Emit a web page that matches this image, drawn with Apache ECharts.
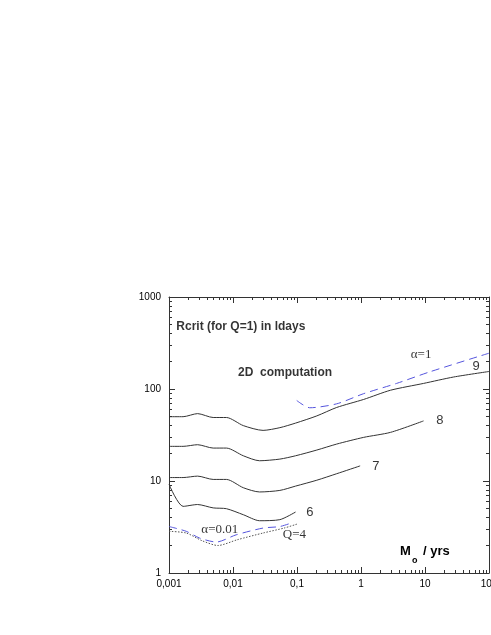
<!DOCTYPE html>
<html>
<head>
<meta charset="utf-8">
<script src="https://cdn.jsdelivr.net/npm/echarts@6/dist/echarts.min.js"></script>
<style>html,body{margin:0;padding:0;background:#fff;}#pic{width:491px;height:635px;}</style>
</head>
<body>
<div id="pic"></div>
<script>
// x 轴为 M / yrs，y 轴为 Rcrit (ldays)
var curve9 = [[0.001,50],[0.00166,50],[0.0028,54],[0.0049,49],[0.0079,49],[0.0145,40],[0.0295,35.5],[0.054,38],[0.095,42.6],[0.204,51],[0.417,63],[1.1,77],[2.9,97],[9.5,115],[28,135],[100,155]];
var curve8 = [[0.001,23.8],[0.00166,23.8],[0.0028,24.8],[0.0049,22.8],[0.0079,22.8],[0.0145,18.8],[0.026,16.6],[0.054,17.3],[0.095,18.8],[0.204,21.7],[0.417,25.2],[1.1,29.8],[2.9,33.8],[9.5,45]];
var curve7 = [[0.001,10.9],[0.00166,10.9],[0.0028,11.3],[0.0049,10.4],[0.0079,10.4],[0.0145,8.45],[0.026,7.6],[0.054,7.9],[0.095,8.8],[0.204,10.2],[0.417,12],[0.97,14.6]];
var curve6 = [[0.001,9.2],[0.00166,5.3],[0.0028,5.55],[0.0049,5.1],[0.0079,5.0],[0.0145,4.3],[0.026,3.7],[0.054,3.8],[0.095,4.6]];
var alpha1 = [[0.099,75],[0.158,62.5],[0.417,69],[1.1,89],[3.6,115],[12,154],[100,245]];
var alpha001 = [[0.001,3.2],[0.00186,2.84],[0.003,2.4],[0.0055,2.17],[0.0112,2.6],[0.0295,3.08],[0.054,3.2],[0.087,3.55]];
var q4 = [[0.001,2.84],[0.00186,2.72],[0.0033,2.24],[0.0058,1.99],[0.0117,2.3],[0.0295,2.72],[0.063,3.08],[0.1,3.4]];
var xTickLabels = {0.001:'0,001', 0.01:'0,01', 0.1:'0,1', 1:'1', 10:'10', 100:'100'};
var yTickLabels = {1:'1', 10:'10', 100:'100', 1000:'1000'};
var notes = [
    {value:[0.0013,480], text:'Rcrit (for Q=1) in ldays', bold:true},
    {value:[0.012,150], text:'2D  computation', bold:true},
    {value:[6,235], text:'α=1', bold:false},
    {value:[55,175], text:'9', bold:false},
    {value:[15,45], text:'8', bold:false},
    {value:[1.5,14.5], text:'7', bold:false},
    {value:[0.14,4.6], text:'6', bold:false},
    {value:[0.0032,2.95], text:'α=0.01', bold:false},
    {value:[0.06,2.6], text:'Q=4', bold:false}
];

var black = '#333';
function lineSeries(name, data, color, type) {
    return {
        type: 'line', name: name, data: data, symbol: 'none', silent: true, smooth: 0.25,
        lineStyle: {color: color, width: 1, type: type || 'solid'}
    };
}
function edgeAxis(extra) {
    var a = {
        type: 'log',
        axisLine: {lineStyle: {color: black}},
        axisTick: {inside: true, length: 6, lineStyle: {color: black}},
        minorTick: {show: true, splitNumber: 9, length: 3, lineStyle: {color: black}},
        splitLine: {show: false}
    };
    for (var k in extra) a[k] = extra[k];
    return a;
}

var myChart = echarts.init(document.getElementById('pic'));
var option = {
    animation: false,
    grid: {left: 169, right: 2, top: 297, bottom: 62, outerBoundsMode: 'none'},
    xAxis: [
        edgeAxis({min: 0.001, max: 100,
            axisLabel: {color: '#000', fontSize: 10, fontFamily: 'Liberation Sans', margin: 6,
                formatter: function (v) { return xTickLabels[v] || ''; }}}),
        edgeAxis({min: 0.001, max: 100, position: 'top', axisLabel: {show: false}})
    ],
    yAxis: [
        edgeAxis({min: 1, max: 1000,
            axisLabel: {color: '#000', fontSize: 10, fontFamily: 'Liberation Sans', margin: 8,
                formatter: function (v) { return yTickLabels[v] || ''; }}}),
        edgeAxis({min: 1, max: 1000, position: 'right', axisLabel: {show: false}})
    ],
    series: [
        lineSeries('9', curve9, black),
        lineSeries('8', curve8, black),
        lineSeries('7', curve7, black),
        lineSeries('6', curve6, black),
        lineSeries('α=1', alpha1, '#5555dd', [8, 5]),
        lineSeries('α=0.01', alpha001, '#5555dd', [8, 5]),
        lineSeries('Q=4', q4, '#555', [1.5, 1.5]),
        {
            type: 'scatter', symbolSize: 0, silent: true,
            data: notes.map(function (n) {
                return {
                    value: n.value,
                    label: {
                        show: true, position: 'right', distance: 0, formatter: n.text, color: '#000',
                        fontSize: n.bold ? 12 : 13,
                        fontWeight: n.bold ? 'bold' : 'normal',
                        fontFamily: n.bold ? 'Liberation Sans' : (n.text.length > 1 ? 'Liberation Serif' : 'Liberation Sans')
                    }
                };
            })
        }
    ],
    graphic: [
        {type: 'text', left: 400, top: 545, style: {text: 'M', font: 'bold 13px Liberation Sans', fill: '#000'}},
        {type: 'text', left: 412, top: 556, style: {text: 'o', font: 'bold 9px Liberation Sans', fill: '#000'}},
        {type: 'text', left: 423, top: 545, style: {text: '/ yrs', font: 'bold 13px Liberation Sans', fill: '#000'}}
    ]
};
myChart.setOption(option);
</script>
</body>
</html>
